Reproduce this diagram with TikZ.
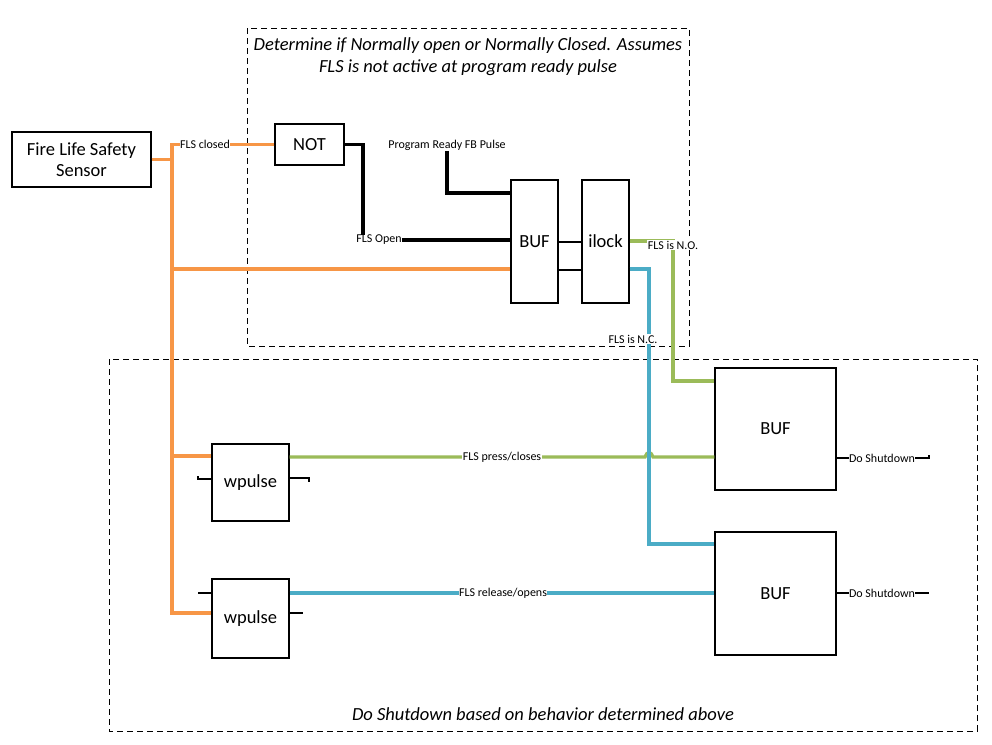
\documentclass[tikz,border=0pt]{standalone}
\usepackage{fontspec}
\setmainfont{Carlito}
\definecolor{forange}{HTML}{F79646}
\definecolor{fgreen}{HTML}{9BBB59}
\definecolor{fblue}{HTML}{4BACC6}
\begin{document}
\begin{tikzpicture}[x=1pt,y=-1pt,
  box/.style={draw, line width=1.1pt, fill=white, inner sep=0pt, align=center, font=\fontsize{18.5}{21}\selectfont},
  lbl/.style={fill=white, inner sep=0.5pt, font=\fontsize{12}{13}\selectfont},
  frame/.style={draw, line width=1pt, dash pattern=on 6pt off 4pt},
  note/.style={align=center, font=\fontsize{18.5}{22}\selectfont\itshape},
  owire/.style={draw=forange, line width=3.3pt},
  gwire/.style={draw=fgreen, line width=3.3pt},
  bwire/.style={draw=fblue, line width=3.3pt},
  kwire/.style={draw=black, line width=3.3pt},
  thin/.style={draw=black, line width=1.1pt}]
\useasboundingbox (0,0) rectangle (992,744);
\fill[white] (0,0) rectangle (992,744);

% frames
\draw[frame] (247,28) rectangle (689,346);
\draw[frame] (109,359) rectangle (977,731);
\node[note] (t1) at (468,57) {Determine if Normally open or Normally Closed. Assumes\\FLS is not active at program ready pulse};
\node[note] (t2) at (543,714) {Do Shutdown based on behavior determined above};

% nodes
\node[box, minimum width=139pt, minimum height=55pt] (sensor) at (81.5,159.5) {Fire Life Safety\\Sensor};
\node[box, minimum width=69pt, minimum height=41pt] (not) at (309.5,144.5) {NOT};
\node[box, minimum width=47pt, minimum height=123pt] (buf1) at (534.5,241.5) {BUF};
\node[box, minimum width=47pt, minimum height=123pt] (ilock) at (605.5,241.5) {ilock};
\node[box, minimum width=77pt, minimum height=77pt] (wp1) at (250.5,482.5) {wpulse};
\node[box, minimum width=77pt, minimum height=79pt] (wp2) at (250.5,618.5) {wpulse};
\node[box, minimum width=121pt, minimum height=122pt] (buf3) at (775.5,429) {BUF};
\node[box, minimum width=121pt, minimum height=123pt] (buf4) at (775.5,593.5) {BUF};
\node[lbl, fill=none] (prog) at (447,145) {Program Ready FB Pulse};

% orange wires
\draw[owire] (sensor.east) -- (172,159.5);
\draw[owire, line join=miter] (not.west) -- (172,144.5) -- (172,613) -- (wp2.west |- 0,613);
\draw[owire] (172,269) -- (buf1.west |- 0,269);
\draw[owire] (172,456) -- (wp1.west |- 0,456);
\node[lbl] (lclosed) at (205,144.5) {FLS closed};

% black wires
\draw[kwire, line join=miter] (not.east) -- (363,144.5) -- (363,240) -- (buf1.west |- 0,240);
\node[lbl] (lopen) at (379,240) {FLS Open};
\draw[kwire, line join=miter] (prog.south) -- (447,193) -- (buf1.west |- 0,193);
\draw[thin] (buf1.east |- 0,242) -- (ilock.west |- 0,242);
\draw[thin] (buf1.east |- 0,270) -- (ilock.west |- 0,270);

% green wires
\draw[gwire, line join=miter] (ilock.east |- 0,241) -- (673,241) -- (673,381) -- (buf3.west |- 0,381);
\node[lbl] (lno) at (673,245) {FLS is N.O.};
\draw[gwire] (wp1.east |- 0,457) -- (645,457) .. controls (647,451) and (651,451) .. (653,457) -- (buf3.west |- 0,457);
\node[lbl] (lpress) at (502,457) {FLS press/closes};

% blue wires
\draw[bwire, line join=miter] (ilock.east |- 0,269) -- (649,269) -- (649,544) -- (buf4.west |- 0,544);
\node[lbl] (lnc) at (633,339) {FLS is N.C.};
\draw[bwire] (wp2.east |- 0,593) -- (buf4.west |- 0,593);
\node[lbl] (lrel) at (503,593) {FLS release/opens};

% stubs
\draw[thin] (198,476) -- (198,479) -- (wp1.west |- 0,479);
\draw[thin] (wp1.east |- 0,478) -- (309,478) -- (309,482);
\draw[thin] (198,593) -- (wp2.west |- 0,593);
\draw[thin] (wp2.east |- 0,613) -- (303,613);

% outputs
\draw[thin] (buf3.east |- 0,458) -- (929,458) -- (929,455);
\node[lbl] (ds1) at (882,458) {Do Shutdown};
\draw[thin] (buf4.east |- 0,593) -- (929,593);
\node[lbl] (ds2) at (882,593) {Do Shutdown};
\end{tikzpicture}
\end{document}
